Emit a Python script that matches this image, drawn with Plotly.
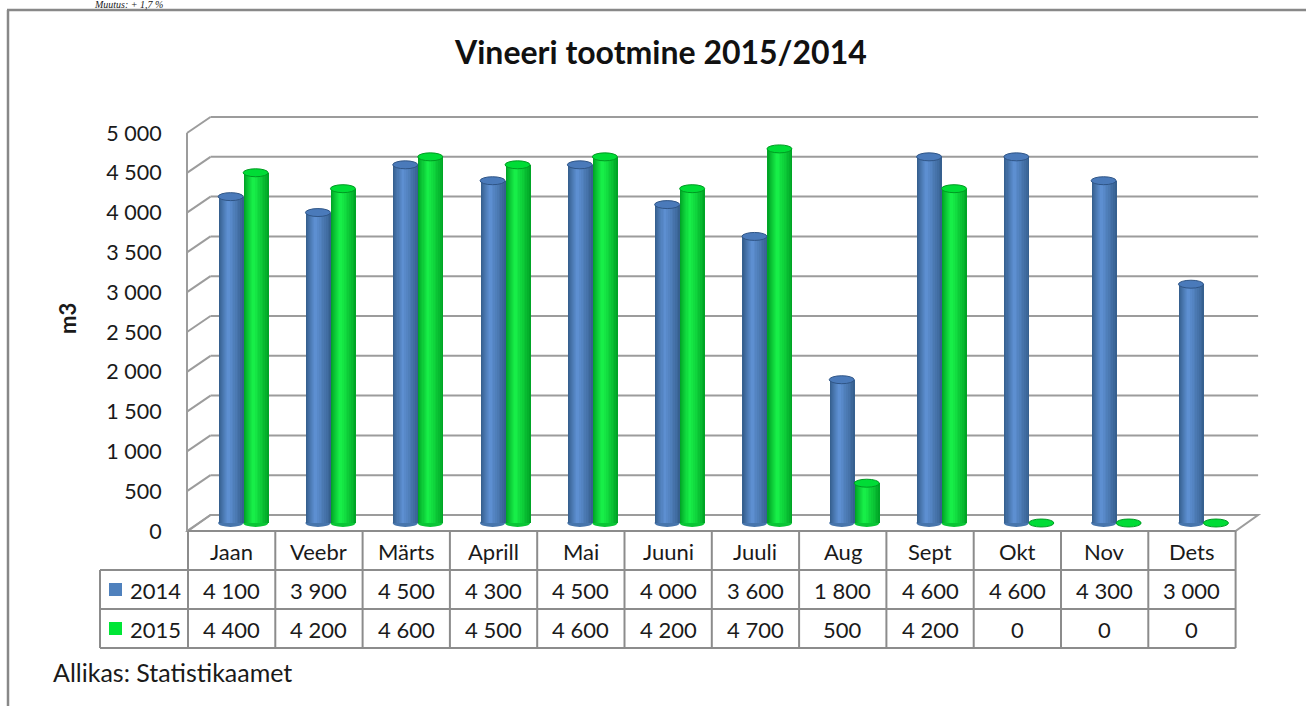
import plotly.graph_objects as go

# ---------------- data ----------------
months = ["Jaan", "Veebr", "Märts", "Aprill", "Mai", "Juuni", "Juuli", "Aug", "Sept", "Okt", "Nov", "Dets"]
series_names = ["2014", "2015"]
v2014 = [4100, 3900, 4500, 4300, 4500, 4000, 3600, 1800, 4600, 4600, 4300, 3000]
v2015 = [4400, 4200, 4600, 4500, 4600, 4200, 4700, 500, 4200, 0, 0, 0]
y_ticks = [0, 500, 1000, 1500, 2000, 2500, 3000, 3500, 4000, 4500, 5000]
title_text = "Vineeri tootmine 2015/2014"
y_title = "m3"
source_text = "Allikas: Statistikaamet"
top_cut_text = "Muutus: + 1,7 %"

# ---------------- geometry / style ----------------
W, H = 1306, 706
FONT = "Lato"
TXT = "#1a1a1a"
GRID = "#9c9c9c"
TAB = "#8c8c8c"


def PX(x):
    return x / W


def PY(y):
    return 1 - y / H


TX0 = 188.0
COLW = 87.3
TX1 = TX0 + 12 * COLW
FY0 = 531.0          # front floor line (value 0, front)
SCALE = 398 / 5000   # px per unit
DXM, DYM = 11.5, -8  # mid depth offset
DXB, DYB = 22.5, -16  # back wall offset
YMIN = -150


def yf(v):
    return FY0 - v * SCALE


def yb(v):
    return yf(v) + DYB


def fmt(v):
    return f"{v:,}".replace(",", " ")


def hex2rgb(h):
    h = h.lstrip("#")
    return tuple(int(h[i:i + 2], 16) for i in (0, 2, 4))


def lerp(c1, c2, t):
    a, b = hex2rgb(c1), hex2rgb(c2)
    return "rgb(%d,%d,%d)" % tuple(round(a[i] + (b[i] - a[i]) * t) for i in range(3))


styles = [
    dict(dark="#36608f", light="#6194d8", top="#4a7aba", edge="#2f5586", key="#4f81bd"),
    dict(dark="#00a526", light="#1af64c", top="#00dc36", edge="#009a22", key="#00e636"),
]
series_vals = [v2014, v2015]

fig = go.Figure()

BW = 25 / COLW
K = 9
HL = 0.38
shapes = []
annotations = []


def ann(x, y, text, size, xanchor="center", yanchor="middle", family=FONT, color=TXT, **kw):
    d = dict(x=PX(x), y=PY(y), text=text, showarrow=False, xref="paper", yref="paper",
             xanchor=xanchor, yanchor=yanchor, font=dict(family=family, size=size, color=color))
    d.update(kw)
    annotations.append(d)


# floor (parallelogram)
floor = (f"M {PX(TX0)} {PY(yf(0))} L {PX(TX1)} {PY(yf(0))} "
         f"L {PX(TX1 + DXB)} {PY(yb(0))} L {PX(TX0 + DXB)} {PY(yb(0))} Z")
shapes.append(dict(type="path", xref="paper", yref="paper", path=floor,
                   fillcolor="white", line=dict(color=GRID, width=2), layer="below"))

# back-wall gridlines + side wall diagonals
for v in y_ticks:
    shapes.append(dict(type="line", xref="paper", yref="paper", layer="below",
                       x0=PX(TX0 + DXB), x1=PX(TX1 + DXB), y0=PY(yb(v)), y1=PY(yb(v)),
                       line=dict(color=GRID, width=2)))
    shapes.append(dict(type="line", xref="paper", yref="paper", layer="below",
                       x0=PX(TX0 - 1), x1=PX(TX0 + DXB), y0=PY(yf(v)), y1=PY(yb(v)),
                       line=dict(color=GRID, width=2)))
shapes.append(dict(type="line", xref="paper", yref="paper", layer="below",
                   x0=PX(TX0 - 1), x1=PX(TX0 - 1), y0=PY(yf(5000)), y1=PY(yf(0)),
                   line=dict(color=GRID, width=2)))

# bars as nested layers (cylinder shading)
EH = 50
for si, (name, vals, st) in enumerate(zip(series_names, series_vals, styles)):
    base_off = -BW if si == 0 else 0.0
    for j, v in enumerate(vals):
        if v > 0:
            shapes.append(dict(type="circle", xref="x", yref="y", layer="below",
                               x0=j + base_off, x1=j + base_off + BW, y0=-EH, y1=EH,
                               fillcolor=lerp(st["dark"], st["light"], 0.4), line=dict(width=0)))
    for i in range(K):
        s = i / K
        left = HL * s
        right = 1 - (1 - HL) * s
        fig.add_trace(go.Bar(
            x=months, y=vals, name=name,
            width=BW * (right - left), offset=base_off + BW * left,
            marker=dict(color=lerp(st["dark"], st["light"], s ** 0.9), line=dict(width=0)),
            showlegend=False, hoverinfo="x+y+name" if i == 0 else "skip",
        ))
    for j, v in enumerate(vals):
        shapes.append(dict(type="circle", xref="x", yref="y", layer="above",
                           x0=j + base_off, x1=j + base_off + BW, y0=v - EH, y1=v + EH,
                           fillcolor=st["top"], line=dict(color=st["edge"], width=1)))

# invisible trace carrying the front axis
fig.add_trace(go.Scatter(x=[months[0]], y=[0], yaxis="y2", mode="markers",
                         marker=dict(opacity=0), showlegend=False, hoverinfo="skip"))

# ---------------- data table ----------------
RH = [531, 570, 609, 648]
LX = 100
for yy in RH:
    x0 = TX0 if yy == RH[0] else LX
    shapes.append(dict(type="line", xref="paper", yref="paper", layer="above",
                       x0=PX(x0), x1=PX(TX1), y0=PY(yy), y1=PY(yy),
                       line=dict(color=TAB, width=2)))
for k in range(13):
    xx = TX0 + k * COLW
    shapes.append(dict(type="line", xref="paper", yref="paper", layer="above",
                       x0=PX(xx), x1=PX(xx), y0=PY(RH[0]), y1=PY(RH[3]),
                       line=dict(color=TAB, width=2)))
shapes.append(dict(type="line", xref="paper", yref="paper", layer="above",
                   x0=PX(LX), x1=PX(LX), y0=PY(RH[1]), y1=PY(RH[3]),
                   line=dict(color=TAB, width=2)))

TFS = 22
for j, m in enumerate(months):
    cx = TX0 + (j + 0.5) * COLW
    ann(cx, (RH[0] + RH[1]) / 2 + 1, m, TFS)
    for si, vals in enumerate(series_vals):
        ann(cx, (RH[1 + si] + RH[2 + si]) / 2 + 1, fmt(vals[j]), TFS)

for si, (name, st) in enumerate(zip(series_names, styles)):
    cy = (RH[1 + si] + RH[2 + si]) / 2
    shapes.append(dict(type="rect", xref="paper", yref="paper", layer="above",
                       x0=PX(109), x1=PX(122), y0=PY(cy - 6.5), y1=PY(cy + 6.5),
                       fillcolor=st["key"], line=dict(width=0)))
    ann(128, cy + 1, name, TFS, xanchor="left")

# ---------------- frame & texts ----------------
shapes.append(dict(type="line", xref="paper", yref="paper", layer="above",
                   x0=PX(8), x1=PX(8), y0=PY(10), y1=PY(H + 5), line=dict(color="#888888", width=2.5)))
shapes.append(dict(type="line", xref="paper", yref="paper", layer="above",
                   x0=PX(7), x1=PX(W + 5), y0=PY(10), y1=PY(10), line=dict(color="#888888", width=2.5)))

ann(660, 52, f"<b>{title_text}</b>", 32, color="#111111")
ann(68, 319, f"<b>{y_title}</b>", 22, textangle=-90)
ann(51, 672, source_text, 25, xanchor="left")
ann(92, 4.5, f"<i>{top_cut_text}</i>", 10, xanchor="left", family="Liberation Serif")

fig.update_layout(
    template="none",
    width=W, height=H, autosize=False,
    margin=dict(l=0, r=0, t=0, b=0, pad=0),
    paper_bgcolor="white", plot_bgcolor="rgba(0,0,0,0)",
    barmode="overlay", bargap=0,
    separators=", ",
    shapes=shapes, annotations=annotations,
    xaxis=dict(domain=[PX(TX0 + DXM), PX(TX1 + DXM)], range=[-0.5, 11.5], type="category",
               categoryorder="array", categoryarray=months, visible=False, fixedrange=True,
               automargin=False),
    yaxis=dict(domain=[PY(FY0 + DYM - YMIN * SCALE), PY(yf(5000) + DYM)], range=[YMIN, 5000],
               visible=False, fixedrange=True, automargin=False),
    yaxis2=dict(domain=[PY(yf(0)), PY(yf(5000))], range=[0, 5000], anchor="free",
                position=PX(TX0), side="left", tickvals=y_ticks, tickformat=",d",
                ticks="outside", ticklen=22, tickcolor="rgba(0,0,0,0)", showline=False,
                showgrid=False, zeroline=False, fixedrange=True, automargin=False,
                tickfont=dict(family=FONT, size=21.5, color=TXT)),
    showlegend=False,
)

fig.write_html("out.html", config={"displayModeBar": False},
               post_script="document.body.style.margin='0';document.body.style.overflow='hidden';")
